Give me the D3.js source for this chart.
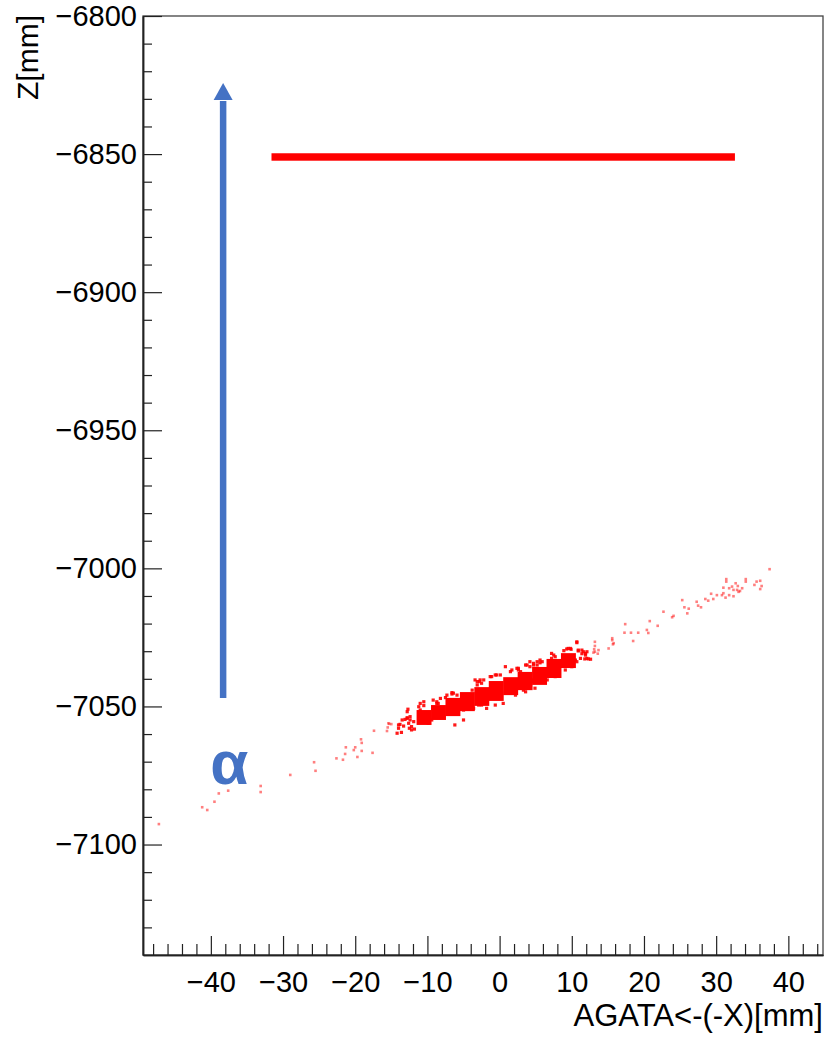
<!DOCTYPE html>
<html>
<head>
<meta charset="utf-8">
<script src="https://cdn.jsdelivr.net/npm/d3@7"></script>
<style>
  body { margin: 0; background: #fff; }
  text { font-family: "Liberation Sans", Arial, sans-serif; fill: #000; }
</style>
</head>
<body>
<svg id="chart" width="825" height="1037"></svg>
<script>
// axis ranges and ticks
const xDomain = [-49.4, 44.8];
const zDomain = [-6800, -7140];
const xMajor = [-40, -30, -20, -10, 0, 10, 20, 30, 40];
const xMinor = d3.range(-48, 45, 2).filter(v => v % 10 !== 0);
const zMajor = [-6800, -6850, -6900, -6950, -7000, -7050, -7100];
const zMinor = d3.range(-6810, -7140, -10).filter(v => v % 50 !== 0);

// horizontal line of hits (x from / to, z band)
const lineX = [-31.6, 32.6];
const lineZ = [-6849.7, -6852.4];

// dense band: 2 mm wide bins, left edges and z extent
const bandX = [-11.5, -9.5, -7.5, -5.5, -3.5, -1.5, 0.5, 2.5, 4.5, 6.5, 8.5];
const bandZHi = [-7051.3, -7049.5, -7046.9, -7044.8, -7043.0, -7040.8, -7039.4, -7037.5, -7035.7, -7032.8, -7030.7];
const bandZLo = [-7056.7, -7054.9, -7053.5, -7051.7, -7049.8, -7048.0, -7045.9, -7044.1, -7042.2, -7039.7, -7036.1];

// single hits [x, z]
const tailLow = [[-47.2,-7092.6],[-41.2,-7086.5],[-40.5,-7087.5],[-39.5,-7084.5],[-38.9,-7081.5],[-37.6,-7080.5],
  [-33.1,-7078.8],[-33.1,-7081.0],[-29.0,-7074.8],[-25.7,-7070.2],[-25.5,-7073.3],[-22.6,-7068.8],[-21.7,-7069.3],
  [-21.4,-7067.2],[-21.3,-7064.8],[-20.2,-7065.8],[-20.0,-7064.8],[-19.7,-7068.3],[-19.2,-7061.9],[-19.1,-7063.2],
  [-19.1,-7066.1],[-17.6,-7066.8],[-17.4,-7058.8],[-15.3,-7056.3],[-15.5,-7057.6],[-15.4,-7056.1],[-15.0,-7056.4],
  [-15.6,-7058.9]];

const bandFringe = [[-14.2,-7059.7],[-14.0,-7057.9],[-13.8,-7056.5],[-13.5,-7054.9],[-13.1,-7054.7],[-12.8,-7054.1],
  [-12.4,-7054.9],[-12.2,-7057.3],[-12.5,-7057.9],[-13.3,-7057.1],[-11.9,-7055.5],[-12.7,-7051.0],[-14.0,-7056.7],
  [-13.6,-7059.4],[-12.8,-7054.3],[-12.6,-7056.1],[-11.8,-7058.2],[-12.2,-7058.5],[-11.2,-7050.1],[-11.0,-7051.3],
  [-10.5,-7049.7],[-9.9,-7056.1],[-9.4,-7054.9],[-9.2,-7047.7],[-8.7,-7048.3],[-8.5,-7048.9],[-8.2,-7047.1],
  [-7.5,-7046.8],[-7.3,-7045.9],[-6.6,-7045.0],[-7.1,-7052.5],[-6.4,-7051.3],[-6.4,-7045.2],[-5.9,-7045.9],
  [-5.0,-7051.3],[-4.8,-7051.0],[-4.3,-7050.7],[-3.6,-7050.7],[-3.4,-7040.4],[-3.1,-7041.0],[-2.8,-7041.0],
  [-2.7,-7040.4],[-2.5,-7041.6],[-3.1,-7048.3],[-2.9,-7049.5],[-2.5,-7049.5],[-1.8,-7048.9],[-1.3,-7046.5],
  [-1.3,-7039.2],[-0.6,-7038.6],[0.1,-7038.6],[-0.6,-7046.5],[0.1,-7045.9],[0.1,-7047.1],[0.8,-7035.6],
  [1.5,-7037.4],[1.7,-7036.8],[2.4,-7036.2],[2.6,-7036.8],[2.9,-7037.4],[1.0,-7044.1],[1.7,-7043.4],[2.2,-7042.9],
  [3.3,-7044.1],[3.6,-7035.0],[4.2,-7035.6],[4.2,-7033.8],[4.7,-7035.0],[4.0,-7042.0],[4.5,-7040.4],[4.7,-7041.0],
  [5.2,-7033.8],[5.6,-7034.2],[5.6,-7033.2],[5.9,-7033.8],[5.6,-7039.8],[6.1,-7039.8],[7.2,-7030.8],[7.2,-7032.6],
  [7.7,-7032.0],[8.9,-7029.8],[9.3,-7029.2],[9.5,-7029.0],[9.8,-7029.0],[9.9,-7029.3],[10.7,-7026.9],[10.9,-7029.6],
  [10.9,-7029.9],[10.7,-7033.8],[10.0,-7035.6],[9.3,-7035.0],[11.4,-7029.6],[11.6,-7030.2],[11.9,-7030.8],
  [12.1,-7032.6],[12.6,-7032.9],[11.9,-7031.4],[11.4,-7030.9],[11.8,-7032.8],[11.2,-7032.6],[12.3,-7032.8],
  [12.1,-7030.2],[-12.8,-7051.9],[-12.4,-7053.7],[-11.0,-7048.9],[-10.5,-7048.3],[-8.7,-7048.9],[-6.6,-7045.5],
  [-6.2,-7056.7],[-5.0,-7054.9],[-3.8,-7044.1],[-3.1,-7042.2],[-2.2,-7040.4],[-1.1,-7039.2],[-0.4,-7038.6],
  [-0.6,-7049.5],[-1.8,-7050.7],[0.5,-7048.9],[7.5,-7031.4],[5.2,-7035.0],[10.7,-7026.6],[10.5,-7033.2],
  [9.1,-7036.8],[7.7,-7039.2],[6.6,-7040.4],[4.9,-7043.4],[3.6,-7044.7],[2.2,-7045.9],[0.8,-7045.2],
  [-0.2,-7047.1],[2.6,-7036.2],[3.8,-7035.0],[4.7,-7034.4]];

const tailHigh = [[13.2,-7026.6],[13.2,-7028.1],[13.2,-7030.2],[13.7,-7029.6],[13.1,-7029.3],[13.0,-7030.5],
  [13.6,-7030.9],[15.1,-7029.0],[15.6,-7026.0],[15.8,-7027.1],[15.6,-7025.3],[15.7,-7027.5],[17.4,-7020.2],
  [17.3,-7023.3],[18.2,-7023.3],[18.5,-7026.3],[19.2,-7023.3],[20.4,-7022.3],[20.6,-7023.4],[20.8,-7019.1],
  [21.9,-7020.8],[22.7,-7015.7],[23.9,-7017.7],[24.1,-7017.2],[25.3,-7011.5],[25.6,-7014.1],[26.0,-7016.3],
  [26.2,-7014.6],[27.3,-7012.1],[27.5,-7013.5],[27.9,-7014.1],[28.5,-7011.1],[28.9,-7011.7],[29.3,-7009.2],
  [29.6,-7011.1],[30.1,-7009.7],[30.8,-7009.7],[31.0,-7007.0],[31.0,-7009.0],[31.3,-7010.6],[31.4,-7003.9],
  [31.4,-7004.8],[31.8,-7007.2],[31.8,-7009.7],[32.2,-7006.6],[32.4,-7007.8],[32.4,-7010.1],[32.7,-7005.4],
  [32.9,-7007.8],[33.0,-7006.4],[33.1,-7008.5],[33.3,-7008.2],[33.6,-7007.2],[34.1,-7003.9],[34.1,-7004.8],
  [35.3,-7006.0],[35.6,-7004.8],[36.1,-7004.5],[36.3,-7006.4],[36.1,-7007.5],[37.4,-7000.3]];

// beam direction annotation (x, z bottom, z head base, z tip) and label
const arrowX = -38.3;
const arrowZ = [-7046.9, -6830.4, -6824.3];
const alphaPos = [-37.45, -7078.1];

const svg = d3.select("#chart");
const frame = {left: 143, right: 823, top: 16, bottom: 955};

const x = d3.scaleLinear().domain(xDomain).range([frame.left, frame.right]);
const z = d3.scaleLinear().domain(zDomain).range([frame.top, frame.bottom]);

const red = "#ff0000";
const blue = "#4472c4";

// frame box
svg.append("rect")
  .attr("x", frame.left).attr("y", frame.top)
  .attr("width", frame.right - frame.left).attr("height", frame.bottom - frame.top)
  .attr("fill", "none").attr("stroke", "#444").attr("stroke-width", 1.3);

// data
let plot = svg.append("g");

plot.append("rect")
  .attr("x", x(lineX[0])).attr("width", x(lineX[1]) - x(lineX[0]))
  .attr("y", z(lineZ[0])).attr("height", z(lineZ[1]) - z(lineZ[0]))
  .attr("fill", red);

plot.selectAll(".bin")
  .data(bandX)
  .join("rect")
  .attr("class", "bin")
  .attr("x", d => x(d))
  .attr("width", d => x(d + 2) - x(d) + 0.5)
  .attr("y", (d, i) => z(bandZHi[i]))
  .attr("height", (d, i) => z(bandZLo[i]) - z(bandZHi[i]))
  .attr("fill", red);

// hits close to the band are drawn stronger, isolated ones faint
plot.selectAll(".fringe")
  .data(bandFringe)
  .join("rect")
  .attr("class", "fringe")
  .attr("x", d => x(d[0]) - 1.6)
  .attr("y", d => z(d[1]) - 1.6)
  .attr("width", 3.2)
  .attr("height", 3.2)
  .attr("fill", red)
  .attr("opacity", 0.9);

plot.selectAll(".hit")
  .data(tailLow.concat(tailHigh))
  .join("rect")
  .attr("class", "hit")
  .attr("x", d => x(d[0]) - 1.3)
  .attr("y", d => z(d[1]) - 1.3)
  .attr("width", 2.6)
  .attr("height", 2.6)
  .attr("fill", red)
  .attr("opacity", 0.5);

// axes, ticks pointing inwards like ROOT
let fmt = d3.format("d");

let gy = svg.append("g").attr("transform", `translate(${frame.left},0)`);
gy.call(d3.axisLeft(z).tickValues(zMinor).tickSize(-9).tickSizeOuter(0).tickFormat(""));
gy.append("g").call(d3.axisLeft(z).tickValues(zMajor).tickSize(-19).tickSizeOuter(0).tickPadding(6).tickFormat(fmt));

let gx = svg.append("g").attr("transform", `translate(0,${frame.bottom})`);
gx.call(d3.axisBottom(x).tickValues(xMinor).tickSize(-11).tickSizeOuter(0).tickFormat(""));
gx.append("g").call(d3.axisBottom(x).tickValues(xMajor).tickSize(-19).tickSizeOuter(0).tickPadding(16).tickFormat(fmt));

svg.selectAll(".domain").attr("stroke", "#222").attr("stroke-width", 1.5);
svg.selectAll(".tick line").attr("stroke", "#222").attr("stroke-width", 1.2);
svg.selectAll(".tick text").attr("font-size", 29).attr("font-family", "Liberation Sans, Arial, sans-serif");

// axis titles
svg.append("text")
  .attr("x", frame.right).attr("y", 1026)
  .attr("text-anchor", "end")
  .attr("font-size", 31)
  .text("AGATA<-(-X)[mm]");

svg.append("text")
  .attr("transform", "translate(38,15) rotate(-90)")
  .attr("text-anchor", "end")
  .attr("font-size", 30)
  .text("Z[mm]");

// annotation: alpha beam arrow
let ax = x(arrowX);
svg.append("line")
  .attr("x1", ax).attr("x2", ax)
  .attr("y1", z(arrowZ[0])).attr("y2", z(arrowZ[1]) + 1)
  .attr("stroke", blue).attr("stroke-width", 6.5);
svg.append("path")
  .attr("d", `M${ax - 9.5},${z(arrowZ[1])} L${ax},${z(arrowZ[2])} L${ax + 9.5},${z(arrowZ[1])} Z`)
  .attr("fill", blue);

svg.append("text")
  .attr("x", x(alphaPos[0])).attr("y", z(alphaPos[1]))
  .attr("text-anchor", "middle")
  .attr("font-family", "Open Sans, sans-serif")
  .attr("font-weight", "bold")
  .attr("font-size", 62)
  .style("fill", blue)
  .text("α");
</script>
</body>
</html>
